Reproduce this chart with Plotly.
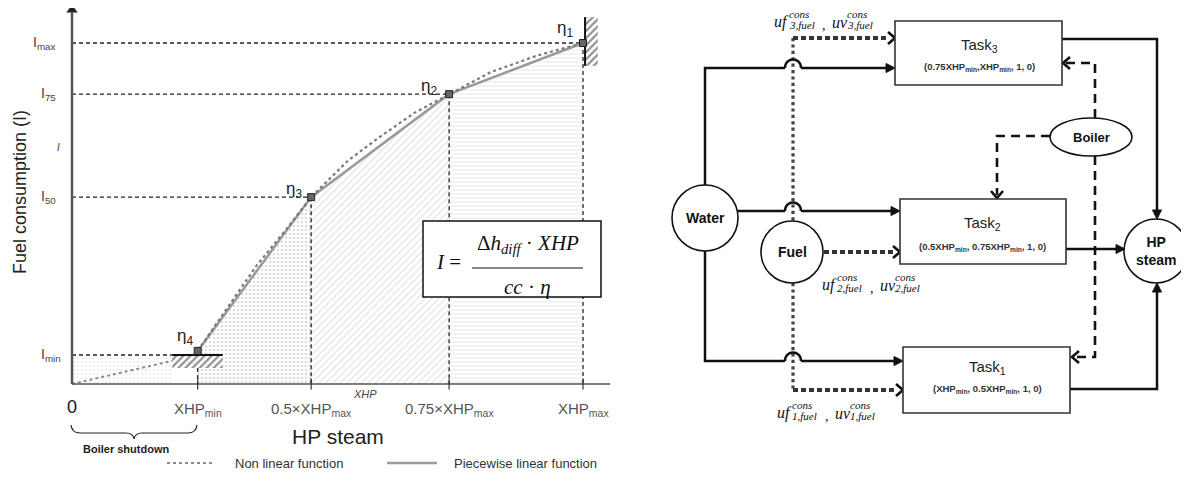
import plotly.graph_objects as go

W, H = 1189, 481
OFF = 8  # default page body margin in the browser

# ---------------- left chart data (XHP_max = 1, I_max = 1) ----------------
tick_x = [0.0, 0.246, 0.468, 0.738, 1.0]
tick_labels = ["0", "XHP<sub>min</sub>", "0.5×XHP<sub>max</sub>",
               "0.75×XHP<sub>max</sub>", "XHP<sub>max</sub>"]
level_labels = ["I<sub>max</sub>", "I<sub>75</sub>", "I<sub>50</sub>", "I<sub>min</sub>"]
level_y = [1.0, 0.850, 0.548, 0.085]
eta_labels = ["η<sub>1</sub>", "η<sub>2</sub>", "η<sub>3</sub>", "η<sub>4</sub>"]
eta_x = [1.0, 0.738, 0.468, 0.246]
eta_y = [1.0, 0.850, 0.548, 0.097]
nonlin_x = [0.246, 0.30, 0.36, 0.42, 0.468, 0.54, 0.60, 0.67, 0.738, 0.82, 0.91, 1.0]
nonlin_y = [0.097, 0.215, 0.345, 0.455, 0.548, 0.655, 0.722, 0.795, 0.850, 0.915, 0.963, 1.0]
shutdown_x = [0.0, 0.10, 0.196]
shutdown_y = [0.0, 0.034, 0.068]
min_hatch_x = [0.196, 0.295]
min_hatch_y = [0.047, 0.085]
max_hatch_x = [1.004, 1.029]
max_hatch_y = [0.933, 1.076]
legend_names = ["Non linear function", "Piecewise linear function"]

# pixel layout of the chart axes (0 -> px 72 / 384, 1 -> px 583 / 43)
PX0, PXS = 72.0, 511.0
PY0, PYS = 384.0, 341.0

fig = go.Figure()
GRAY_LINE = "#9a9a9a"

def poly(xs, ys, **kw):
    fig.add_trace(go.Scatter(x=xs, y=ys, xaxis="x", yaxis="y", hoverinfo="skip",
                             showlegend=False, **kw))

# shutdown faint area
poly([0, 0, min_hatch_x[0], min_hatch_x[0]], [0, level_y[3], level_y[3], 0],
     fill="toself", mode="lines", line=dict(width=0),
     fillpattern=dict(shape=".", fgcolor="#d2d2d2", bgcolor="white", size=4, solidity=0.2))

# pattern fills under piecewise line
pats = [dict(shape="-", fgcolor="#d0d0d0", bgcolor="white", size=4, solidity=0.25),
        dict(shape="/", fgcolor="#cfcfcf", bgcolor="white", size=5, solidity=0.3),
        dict(shape=".", fgcolor="#bcbcbc", bgcolor="white", size=4, solidity=0.35)]
for i in range(3):
    xa, xb = eta_x[i + 1], eta_x[i]
    ya, yb = eta_y[i + 1], eta_y[i]
    poly([xa, xa, xb, xb], [0, ya, yb, 0], fill="toself", mode="lines",
         line=dict(width=0), fillpattern=pats[i])

# dashed guide lines
gx, gy = [], []
for i in range(3):
    gx += [0, eta_x[i], None, eta_x[i], eta_x[i], None]
    gy += [level_y[i], level_y[i], None, eta_y[i], 0, None]
gx += [0, min_hatch_x[0], None, eta_x[3], eta_x[3], None]
gy += [level_y[3], level_y[3], None, min_hatch_y[0], 0, None]
poly(gx, gy, mode="lines", line=dict(color="#222", width=1.3, dash="4px,3px"))

# nonlinear (dotted) and piecewise (solid) curves
poly(shutdown_x, shutdown_y, mode="lines", line=dict(color="#8c8c8c", width=2, dash="dot"))
poly(eta_x[::-1], eta_y[::-1], mode="lines", line=dict(color=GRAY_LINE, width=2.5))
poly(nonlin_x, nonlin_y, mode="lines", line=dict(color="#7a7a7a", width=2.2, dash="dot"))

# hatched limit boxes
for hx, hy in [(min_hatch_x, min_hatch_y), (max_hatch_x, max_hatch_y)]:
    poly([hx[0], hx[0], hx[1], hx[1], hx[0]], [hy[0], hy[1], hy[1], hy[0], hy[0]],
         fill="toself", mode="lines", line=dict(width=0),
         fillpattern=dict(shape="/", fgcolor="#222", bgcolor="white", size=5, solidity=0.45))
poly([min_hatch_x[0], min_hatch_x[1]], [min_hatch_y[1], min_hatch_y[1]], mode="lines",
     line=dict(color="#111", width=2))
poly([max_hatch_x[0], max_hatch_x[0]], [max_hatch_y[0], max_hatch_y[1]], mode="lines",
     line=dict(color="#111", width=2))

# markers
poly(eta_x, eta_y, mode="markers",
     marker=dict(symbol="square", size=7, color="#666", line=dict(color="#222", width=1)))

# axes lines + ticks + arrow
poly([0, 0], [0, 1.09], mode="lines", line=dict(color="#555", width=2.5))
poly([0], [1.097], mode="markers", marker=dict(symbol="triangle-up", size=10, color="#222"))
poly([0, 1.053], [0, 0], mode="lines", line=dict(color="#555", width=1.6))
tx, ty = [], []
for v in tick_x[1:]:
    tx += [v, v, None]
    ty += [-0.016, 0.016, None]
poly(tx, ty, mode="lines", line=dict(color="#333", width=1.2))

# dummy trace for diagram axes
fig.add_trace(go.Scatter(x=[100], y=[100], xaxis="x2", yaxis="y2", mode="markers",
                         marker=dict(size=1, color="rgba(0,0,0,0)"), hoverinfo="skip",
                         showlegend=False))

shapes, anns = [], []

def path_shape(d, width=2.5, color="#111", dash="solid", fill=None):
    s = dict(type="path", xref="x2", yref="y2", path=d, layer="above",
             line=dict(width=width, color=color, dash=dash))
    if fill:
        s["fillcolor"] = fill
    shapes.append(s)

def polyline(pts, **kw):
    d = "M " + " L ".join(f"{x},{y}" for x, y in pts)
    path_shape(d, **kw)

DIRS = {"r": (1, 0), "l": (-1, 0), "u": (0, -1), "d": (0, 1)}

def head(tx, ty, dr, L=9, w=4.5):
    dx, dy = DIRS[dr]
    bx, by = tx - L * dx, ty - L * dy
    px, py = -dy, dx
    d = f"M {tx},{ty} L {bx + w*px},{by + w*py} L {bx - w*px},{by - w*py} Z"
    path_shape(d, width=1, fill="#111")

def chevron(tx, ty, dr, L=7, w=6, width=2.6):
    dx, dy = DIRS[dr]
    bx, by = tx - L * dx, ty - L * dy
    px, py = -dy, dx
    d = f"M {bx + w*px},{by + w*py} L {tx},{ty} L {bx - w*px},{by - w*py}"
    path_shape(d, width=width)

def hump(x, y, r=8):
    path_shape(f"M {x-r},{y} C {x-r},{y-1.4*r} {x+r},{y-1.4*r} {x+r},{y}", width=2.5)

def text(x, y, t, size=13, color="#111", family="Liberation Sans, Arial", xanchor="center",
         xref="x2", yref="y2", **kw):
    anns.append(dict(x=x, y=y, xref=xref, yref=yref, text=t, showarrow=False,
                     xanchor=xanchor, yanchor="middle",
                     font=dict(size=size, color=color, family=family), **kw))

# ---------------- chart annotations ----------------
for lab, yv in zip(level_labels, level_y):
    text(58 if yv > 0.2 else 63, yv, lab, size=14, color="#444", xanchor="right", yref="y")
for i, (lab, xv) in enumerate(zip(tick_labels, tick_x)):
    if i == 0:
        text(xv, 407, lab, size=18, color="#111", xref="x")
    else:
        text(xv, 409, lab, size=15, color="#555", xref="x")
eta_off = [(-18, 14), (-20, 7), (-17, 7), (-13, 14)]
for lab, xv, yv, (ox, oy) in zip(eta_labels, eta_x, eta_y, eta_off):
    anns.append(dict(x=xv, y=yv, xref="x", yref="y", text=lab, showarrow=False,
                     xshift=ox, yshift=oy, font=dict(size=17, color="#222",
                     family="Liberation Sans, Arial")))
anns.append(dict(x=20, y=192, xref="x2", yref="y2", text="Fuel consumption (I)",
                 showarrow=False, textangle=-90, xanchor="center", yanchor="middle",
                 font=dict(size=18, color="#222", family="Liberation Sans, Arial")))
text(58, 147, "<i>I</i>", size=10, color="#333")
text(365, 394, "<i>XHP</i>", size=11, color="#444")
text(338, 436, "HP steam", size=21, color="#222")
# brace and boiler shutdown
path_shape("M 71,425 Q 72,433 80,433 L 126,433 Q 133,433 134,439 Q 135,433 142,433 "
           "L 188,433 Q 196,433 197,425", width=1.2, color="#222")
text(126, 449, "<b>Boiler shutdown</b>", size=11, color="#222")
# legend
polyline([(167, 463), (215, 463)], width=1.8, color="#8c8c8c", dash="dot")
text(233, 463, legend_names[0], size=13, color="#333", xanchor="left")
polyline([(387, 463), (437, 463)], width=2.5, color=GRAY_LINE)
text(452, 463, legend_names[1], size=13, color="#333", xanchor="left")
# formula box
shapes.append(dict(type="rect", xref="x2", yref="y2", x0=423, y0=221, x1=601, y1=297,
                   fillcolor="white", line=dict(color="#111", width=1.5), layer="above"))
SERIF = "Liberation Serif, Times New Roman"
text(448, 262, "<i>I</i> =", size=21, family=SERIF)
text(528, 244, "Δ<i>h</i><sub><i>diff</i></sub> · <i>XHP</i>", size=21, family=SERIF)
polyline([(472, 268), (583, 268)], width=1.2, color="#111")
text(527, 287, "<i>cc</i> · <i>η</i>", size=21, family=SERIF)

# ---------------- right diagram ----------------
FX = 793
# fuel lines (under everything)
polyline([(FX, 38), (FX, 221)], width=3.2, color="#444", dash="dot")
polyline([(FX, 283), (FX, 390)], width=3.2, color="#444", dash="dot")
polyline([(FX, 38), (888, 38)], width=4, color="#333", dash="5px,3px")
chevron(895, 38, "r")
polyline([(824, 252), (893, 252)], width=4, color="#333", dash="5px,3px")
chevron(900, 252, "r")
polyline([(FX, 390), (896, 390)], width=4, color="#333", dash="5px,3px")
chevron(903, 390, "r")

# water lines with humps
polyline([(705, 185), (705, 68), (FX - 8, 68)])
hump(FX, 68)
polyline([(FX + 8, 68), (887, 68)])
head(895, 68, "r")
polyline([(738, 211), (FX - 8, 211)])
hump(FX, 211)
polyline([(FX + 8, 211), (892, 211)])
head(900, 211, "r")
polyline([(705, 251), (705, 361), (FX - 8, 361)])
hump(FX, 361)
polyline([(FX + 8, 361), (895, 361)])
head(903, 361, "r")

# task outputs
polyline([(1062, 39), (1157, 39), (1157, 211)])
head(1157, 219, "d")
polyline([(1066, 249), (1117, 249)])
head(1125, 249, "r")
polyline([(1070, 389), (1157, 389), (1157, 291)])
head(1157, 283, "u")

# boiler dashed connections
BD = dict(width=2.6, color="#111", dash="9px,6px")
polyline([(1095, 118), (1095, 63), (1065, 63)], **BD)
chevron(1063, 63, "l")
polyline([(1050, 136), (997, 136), (997, 195)], **BD)
chevron(997, 198, "d")
polyline([(1095, 156), (1095, 357), (1075, 357)], **BD)
chevron(1072, 357, "l")

# boxes
for (x0, y0, x1, y1) in [(895, 21, 1062, 85), (900, 199, 1066, 264), (903, 347, 1070, 413)]:
    shapes.append(dict(type="rect", xref="x2", yref="y2", x0=x0, y0=y0, x1=x1, y1=y1,
                       fillcolor="white", line=dict(color="#333", width=1.6), layer="above"))
for (x0, y0, x1, y1) in [(672, 185, 738, 251), (761, 221, 823, 283), (1124, 219, 1188, 283),
                         (1050, 118, 1132, 156)]:
    shapes.append(dict(type="circle", xref="x2", yref="y2", x0=x0, y0=y0, x1=x1, y1=y1,
                       fillcolor="white", line=dict(color="#111", width=1.6), layer="above"))

task_names = ["Task<sub>3</sub>", "Task<sub>2</sub>", "Task<sub>1</sub>"]
task_params = ["(0.75XHP<sub>min</sub>,XHP<sub>min</sub>, 1, 0)",
               "(0.5XHP<sub>min</sub>, 0.75XHP<sub>min</sub>, 1, 0)",
               "(XHP<sub>min</sub>, 0.5XHP<sub>min</sub>, 1, 0)"]
task_pos = [(979, 45, 67), (982, 223, 247), (987, 367, 389)]
for nm, pr, (cx, ty1, ty2) in zip(task_names, task_params, task_pos):
    text(cx, ty1, nm, size=15, color="#222")
    text(cx, ty2, "<b>" + pr + "</b>", size=9.5, color="#333")

text(705, 218, "<b>Water</b>", size=14)
text(792, 252, "<b>Fuel</b>", size=14)
text(1156, 251, "<b>HP<br>steam</b>", size=14)
text(1091, 137, "<b>Boiler</b>", size=13)

def fuel_label(x, y, k):
    for dx, base in [(0, "uf"), (58, "uv")]:
        text(x + dx, y, f"<i>{base}</i>", size=16, family=SERIF, xanchor="left")
        text(x + dx + 15, y - 8, "<i>cons</i>", size=11, family=SERIF, xanchor="left")
        text(x + dx + 15, y + 3, f"<i>{k},fuel</i>", size=11, family=SERIF, xanchor="left")
    text(x + 48, y + 3, ",", size=14, family=SERIF, xanchor="left")

fuel_label(772, 22, 3)
fuel_label(820, 285, 2)
fuel_label(775, 413, 1)

fig.update_layout(
    width=W - OFF, height=H - OFF, margin=dict(l=0, r=0, t=0, b=0),
    paper_bgcolor="white", plot_bgcolor="white", showlegend=False,
    xaxis=dict(domain=[0, 1], range=[(OFF - PX0) / PXS, (W - PX0) / PXS],
               visible=False, fixedrange=True),
    yaxis=dict(domain=[0, 1], range=[(PY0 - H) / PYS, (PY0 - OFF) / PYS],
               visible=False, fixedrange=True),
    xaxis2=dict(overlaying="x", anchor="y2", range=[OFF, W], visible=False, fixedrange=True),
    yaxis2=dict(overlaying="y", anchor="x2", range=[H, OFF], visible=False, fixedrange=True),
    shapes=shapes, annotations=anns,
)
fig.write_html("out.html")
